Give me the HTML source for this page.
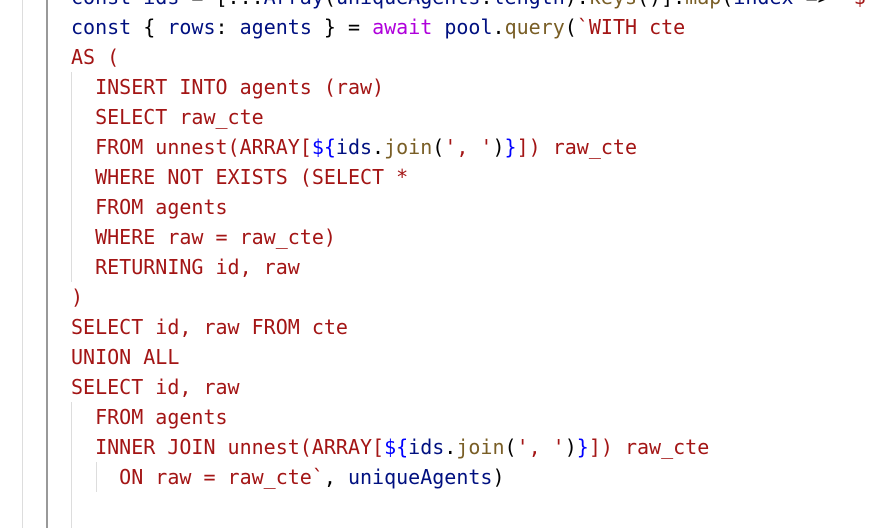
<!DOCTYPE html>
<html><head><style>
html,body{margin:0;padding:0;background:#fff;width:890px;height:528px;overflow:hidden;position:relative}
pre{position:absolute;left:71px;top:-18px;margin:0;font-family:"DejaVu Sans Mono","Liberation Mono",monospace;font-size:20px;line-height:30px;color:#a31515;letter-spacing:0}
.k{color:#0000ff}.n{color:#001080}.p{color:#af00db}.f{color:#795e26}.b{color:#1a1aa6}.d{color:#000}
.l{position:absolute;width:1px}
</style></head><body>
<div class="l" style="left:22px;top:0;height:528px;background:#ddd"></div>
<div class="l" style="left:46px;top:0;height:528px;width:2px;background:#999"></div>
<div class="l" style="left:71px;top:72px;height:210px;background:#ddd"></div>
<div class="l" style="left:71px;top:402px;height:126px;background:#ddd"></div>
<div class="l" style="left:96px;top:462px;height:30px;background:#ddd"></div>
<pre><span class="n">const ids</span><span class="d"> = [...</span><span class="n">Array</span><span class="d">(</span><span class="n">uniqueAgents</span><span class="d">.</span><span class="n">length</span><span class="d">).</span><span class="f">keys</span><span class="d">()].</span><span class="f">map</span><span class="d">(</span><span class="n">index</span><span class="d"> =&gt; </span>`$
<span class="n">const</span><span class="d"> { </span><span class="n">rows</span><span class="d">: </span><span class="n">agents</span><span class="d"> } = </span><span class="p">await</span> <span class="n">pool</span><span class="d">.</span><span class="f">query</span><span class="d">(</span>`WITH cte
AS (
  INSERT INTO agents (raw)
  SELECT raw_cte
  FROM unnest(ARRAY[<span class="k">${</span><span class="n">ids</span><span class="d">.</span><span class="f">join</span><span class="d">(</span>', '<span class="d">)</span><span class="k">}</span>]) raw_cte
  WHERE NOT EXISTS (SELECT *
  FROM agents
  WHERE raw = raw_cte)
  RETURNING id, raw
)
SELECT id, raw FROM cte
UNION ALL
SELECT id, raw
  FROM agents
  INNER JOIN unnest(ARRAY[<span class="k">${</span><span class="n">ids</span><span class="d">.</span><span class="f">join</span><span class="d">(</span>', '<span class="d">)</span><span class="k">}</span>]) raw_cte
    ON raw = raw_cte`<span class="d">, </span><span class="n">uniqueAgents</span><span class="d">)</span>

</pre>
</body></html>
